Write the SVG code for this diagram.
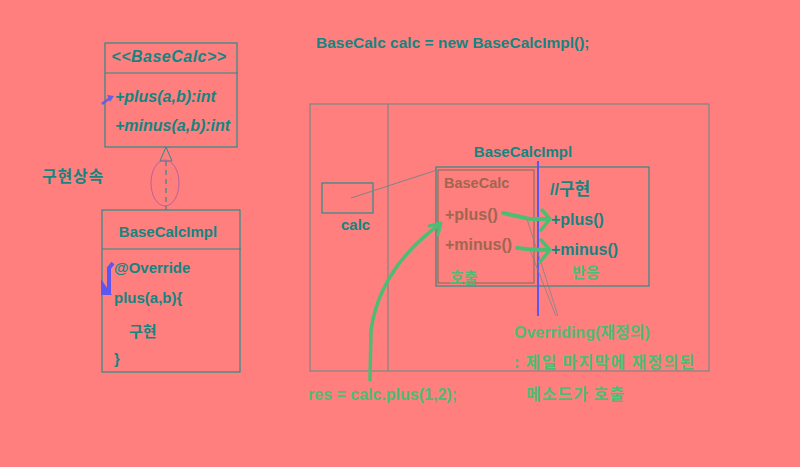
<svg xmlns="http://www.w3.org/2000/svg" width="800" height="467" viewBox="0 0 800 467">
<defs>
<style>
text{font-family:"Liberation Sans","Noto Sans CJK KR",sans-serif;font-weight:bold;font-size:15px}
.k{font-family:"Noto Sans CJK KR","Liberation Sans",sans-serif}
.t{fill:#138581}
.g{fill:#4cbd72}
.b{fill:#a0664f}
.it{font-style:italic;font-size:16px}
.box{fill:none;stroke:#2a8a86;stroke-width:1.2}
.gbox{fill:none;stroke:#7e8584;stroke-width:1.2}
.gl{fill:none;stroke:#4cbd72;stroke-linecap:round;stroke-linejoin:round}
</style>
</defs>
<rect width="800" height="467" fill="#ff7f7f"/>

<g id="basecalc">
<rect class="box" x="105" y="43" width="132" height="104"/>
<line class="box" x1="105" y1="73" x2="238" y2="73"/>
<text class="t it" x="169" y="62" text-anchor="middle" style="letter-spacing:0.5px">&lt;&lt;BaseCalc&gt;&gt;</text>
<text class="t it" x="115" y="102">+plus(a,b):int</text>
<text class="t it" x="115" y="131">+minus(a,b):int</text>
<path d="M102,104 L110,98" stroke="#6a5ee0" stroke-width="2.5" fill="none"/>
<path d="M107,95 L114,96 L110,102 Z" fill="#6a5ee0"/>
</g>

<g id="inheritance">
<path d="M166,147 L160,161 L172,161 Z" fill="none" stroke="#2a8a86" stroke-width="1"/>
<line x1="166" y1="161" x2="166" y2="210" stroke="#2a8a86" stroke-width="1.2" stroke-dasharray="5,4"/>
<ellipse cx="165" cy="183" rx="14" ry="23" fill="none" stroke="#b8609a" stroke-width="1"/>
<text class="t k" x="42" y="182" style="font-size:16px;letter-spacing:0.8px">구현상속</text>
</g>

<g id="basecalcimpl">
<rect class="box" x="102" y="210" width="138" height="162"/>
<line class="box" x1="102" y1="249" x2="241" y2="249"/>
<text class="t" x="168" y="237" text-anchor="middle">BaseCalcImpl</text>
<text class="t" x="114" y="273">@Override</text>
<text class="t" x="114" y="303">plus(a,b){</text>
<text class="t k" x="129" y="337">구현</text>
<text class="t" x="114" y="364">}</text>
<path d="M113,263 L109,268 L109,293" stroke="#5a58f0" stroke-width="4" fill="none"/>
<path d="M101,279 L112,295 L101,295 Z" fill="#5a58f0"/>
</g>

<text class="t" x="316" y="48" style="font-size:15.5px">BaseCalc calc = new BaseCalcImpl();</text>

<g id="memory">
<rect class="gbox" x="310" y="104" width="399" height="267"/>
<line class="gbox" x1="388" y1="104" x2="388" y2="371"/>
</g>

<g id="calc">
<rect class="box" x="322" y="183" width="51" height="30"/>
<text class="t" x="341" y="230">calc</text>
</g>

<g id="impl">
<text class="t" x="523" y="157" text-anchor="middle">BaseCalcImpl</text>
<rect class="box" x="436" y="167" width="213" height="119"/>
<rect fill="none" stroke="#9a6a55" stroke-width="1.2" x="438" y="170" width="96" height="113"/>
<text class="b" x="444" y="188" style="font-size:14.5px">BaseCalc</text>
<text class="b" x="445" y="220" style="font-size:16px">+plus()</text>
<text class="b" x="445" y="250" style="font-size:16px">+minus()</text>
<text class="g k" x="450" y="283">호출</text>
<text class="t" x="550" y="195" style="font-size:16px">//<tspan class="k" style="font-size:17px">구현</tspan></text>
<text class="t" x="551" y="225" style="font-size:16px">+plus()</text>
<text class="t" x="551" y="255" style="font-size:16px">+minus()</text>
<text class="g k" x="572" y="278">반응</text>
</g>

<g id="connectors">
<line x1="351" y1="198" x2="437" y2="170" stroke="#7e8584" stroke-width="1"/>
<line x1="538" y1="161" x2="538" y2="316" stroke="#5a58f0" stroke-width="2"/>
<line x1="527" y1="219" x2="558" y2="316" stroke="#7e8584" stroke-width="0.8"/>
<line x1="530" y1="250" x2="556" y2="316" stroke="#7e8584" stroke-width="0.8"/>
<path class="gl" d="M503,213 Q516,216 530,219 L549,219" stroke-width="4"/>
<path class="gl" d="M542,210 L550,219 L541,230" stroke-width="3.5"/>
<path class="gl" d="M517,248 Q532,250 549,250" stroke-width="4"/>
<path class="gl" d="M541,240 L550,250 L540,262" stroke-width="3.5"/>
<path class="gl" d="M370,380 L371,330 Q380,268 440,224" stroke-width="3.5"/>
<path class="gl" d="M429,226 L441,223 L438,235" stroke-width="3"/>
</g>

<g id="notes">
<text class="g" x="514" y="338" style="font-size:16px">Overriding(<tspan class="k">재정의</tspan>)</text>
<text class="g k" x="514" y="368" style="font-size:16px;letter-spacing:1.3px">: 제일 마지막에 재정의된</text>
<text class="g k" x="526" y="400" style="font-size:16px;letter-spacing:1px">메소드가 호출</text>
<text class="g" x="308" y="400" style="font-size:16px">res = calc.plus(1,2);</text>
</g>
</svg>
